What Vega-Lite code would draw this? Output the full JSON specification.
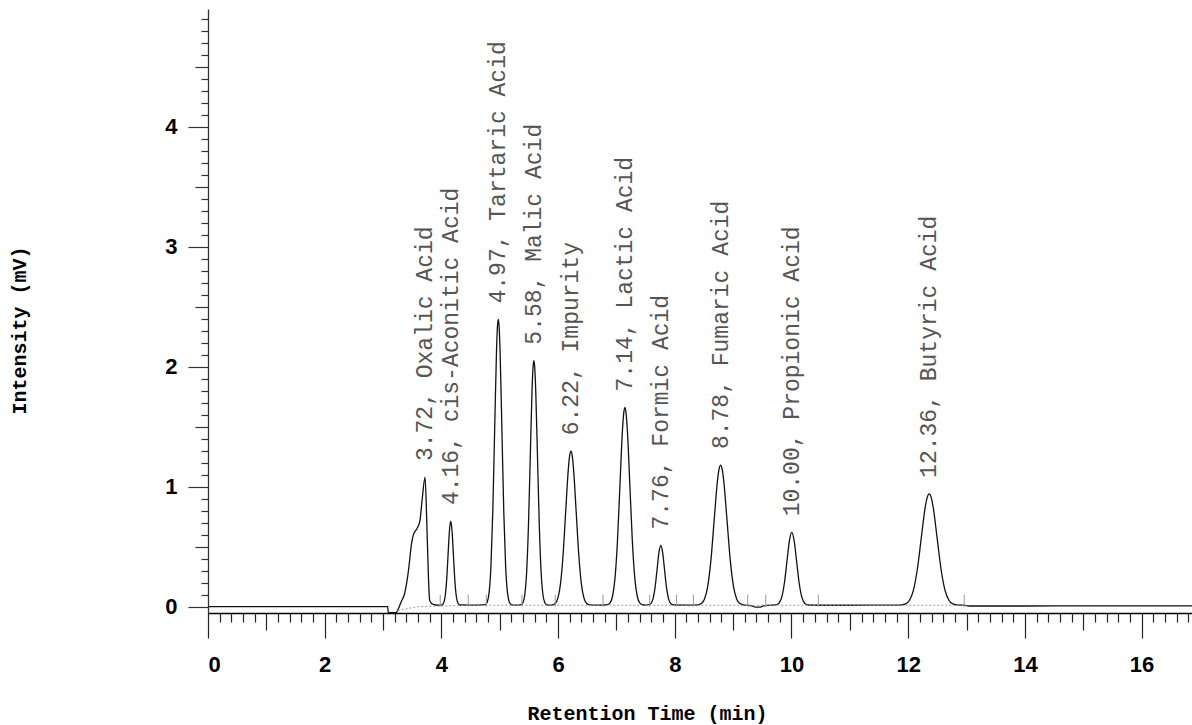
{
  "$schema": "https://vega.github.io/schema/vega-lite/v6.json",
  "width": 984,
  "height": 604,
  "autosize": {"type": "none"},
  "padding": {"left": 208, "top": 9, "right": 0, "bottom": 112},
  "background": "white",
  "config": {"view": {"stroke": null}},
  "datasets": {
    "trace": [
      {"t": 0, "mV": 0.0}, {"t": 1.5, "mV": 0.0}, {"t": 3.08, "mV": 0.0}, {"t": 3.09, "mV": -0.05}, {"t": 3.22, "mV": -0.05},
      {"t": 3.26, "mV": -0.02}, {"t": 3.31, "mV": 0.04}, {"t": 3.37, "mV": 0.11}, {"t": 3.43, "mV": 0.28}, {"t": 3.49, "mV": 0.53},
      {"t": 3.52, "mV": 0.6}, {"t": 3.58, "mV": 0.65}, {"t": 3.63, "mV": 0.71}, {"t": 3.67, "mV": 0.89}, {"t": 3.72, "mV": 1.08},
      {"t": 3.75, "mV": 0.7}, {"t": 3.78, "mV": 0.22}, {"t": 3.8, "mV": 0.05}, {"t": 3.86, "mV": 0.02}, {"t": 3.95, "mV": 0.013},
      {"t": 4.0, "mV": 0.013}, {"t": 4.025, "mV": 0.021}, {"t": 4.0475, "mV": 0.044}, {"t": 4.07, "mV": 0.108}, {"t": 4.0925, "mV": 0.24},
      {"t": 4.115, "mV": 0.438}, {"t": 4.1375, "mV": 0.631}, {"t": 4.16, "mV": 0.713}, {"t": 4.1825, "mV": 0.631}, {"t": 4.205, "mV": 0.438},
      {"t": 4.2275, "mV": 0.24}, {"t": 4.25, "mV": 0.108}, {"t": 4.2725, "mV": 0.044}, {"t": 4.295, "mV": 0.021}, {"t": 4.32, "mV": 0.014},
      {"t": 4.5, "mV": 0.013}, {"t": 4.755, "mV": 0.018}, {"t": 4.786, "mV": 0.039}, {"t": 4.8175, "mV": 0.117}, {"t": 4.849, "mV": 0.335},
      {"t": 4.8805, "mV": 0.786}, {"t": 4.912, "mV": 1.456}, {"t": 4.9435, "mV": 2.113}, {"t": 4.959, "mV": 2.32}, {"t": 4.975, "mV": 2.393},
      {"t": 4.991, "mV": 2.32}, {"t": 5.0065, "mV": 2.113}, {"t": 5.038, "mV": 1.456}, {"t": 5.0695, "mV": 0.786}, {"t": 5.101, "mV": 0.335},
      {"t": 5.1325, "mV": 0.117}, {"t": 5.164, "mV": 0.039}, {"t": 5.195, "mV": 0.018}, {"t": 5.28, "mV": 0.013},
      {"t": 5.368, "mV": 0.018}, {"t": 5.399, "mV": 0.036}, {"t": 5.43, "mV": 0.102}, {"t": 5.461, "mV": 0.289}, {"t": 5.492, "mV": 0.674},
      {"t": 5.523, "mV": 1.248}, {"t": 5.554, "mV": 1.811}, {"t": 5.5695, "mV": 1.987}, {"t": 5.585, "mV": 2.05}, {"t": 5.6005, "mV": 1.987},
      {"t": 5.616, "mV": 1.811}, {"t": 5.647, "mV": 1.248}, {"t": 5.678, "mV": 0.674}, {"t": 5.709, "mV": 0.289}, {"t": 5.74, "mV": 0.102},
      {"t": 5.771, "mV": 0.036}, {"t": 5.802, "mV": 0.018}, {"t": 5.85, "mV": 0.013},
      {"t": 5.905, "mV": 0.016}, {"t": 5.95, "mV": 0.027}, {"t": 5.995, "mV": 0.069}, {"t": 6.04, "mV": 0.186}, {"t": 6.085, "mV": 0.429},
      {"t": 6.13, "mV": 0.791}, {"t": 6.175, "mV": 1.144}, {"t": 6.1975, "mV": 1.256}, {"t": 6.22, "mV": 1.295}, {"t": 6.2425, "mV": 1.256},
      {"t": 6.265, "mV": 1.144}, {"t": 6.31, "mV": 0.791}, {"t": 6.355, "mV": 0.429}, {"t": 6.4, "mV": 0.186}, {"t": 6.445, "mV": 0.069},
      {"t": 6.49, "mV": 0.027}, {"t": 6.535, "mV": 0.016}, {"t": 6.7, "mV": 0.013}, {"t": 6.8, "mV": 0.014},
      {"t": 6.8475, "mV": 0.017}, {"t": 6.89, "mV": 0.031}, {"t": 6.9325, "mV": 0.085}, {"t": 6.975, "mV": 0.236}, {"t": 7.0175, "mV": 0.548},
      {"t": 7.06, "mV": 1.012}, {"t": 7.1025, "mV": 1.467}, {"t": 7.124, "mV": 1.609}, {"t": 7.145, "mV": 1.66}, {"t": 7.166, "mV": 1.609},
      {"t": 7.1875, "mV": 1.467}, {"t": 7.23, "mV": 1.012}, {"t": 7.2725, "mV": 0.548}, {"t": 7.315, "mV": 0.236}, {"t": 7.3575, "mV": 0.085},
      {"t": 7.4, "mV": 0.031}, {"t": 7.4425, "mV": 0.017}, {"t": 7.5, "mV": 0.013},
      {"t": 7.571, "mV": 0.019}, {"t": 7.6025, "mV": 0.035}, {"t": 7.634, "mV": 0.08}, {"t": 7.6655, "mV": 0.174}, {"t": 7.697, "mV": 0.314},
      {"t": 7.7285, "mV": 0.452}, {"t": 7.76, "mV": 0.51}, {"t": 7.7915, "mV": 0.452}, {"t": 7.823, "mV": 0.314}, {"t": 7.8545, "mV": 0.174},
      {"t": 7.886, "mV": 0.08}, {"t": 7.9175, "mV": 0.035}, {"t": 7.949, "mV": 0.019}, {"t": 8.0, "mV": 0.014}, {"t": 8.2, "mV": 0.013},
      {"t": 8.4, "mV": 0.016}, {"t": 8.455, "mV": 0.026}, {"t": 8.51, "mV": 0.064}, {"t": 8.565, "mV": 0.171}, {"t": 8.62, "mV": 0.392},
      {"t": 8.675, "mV": 0.721}, {"t": 8.73, "mV": 1.043}, {"t": 8.7575, "mV": 1.144}, {"t": 8.785, "mV": 1.18}, {"t": 8.8125, "mV": 1.144},
      {"t": 8.84, "mV": 1.043}, {"t": 8.895, "mV": 0.721}, {"t": 8.95, "mV": 0.392}, {"t": 9.005, "mV": 0.171}, {"t": 9.06, "mV": 0.064},
      {"t": 9.115, "mV": 0.026}, {"t": 9.17, "mV": 0.016}, {"t": 9.25, "mV": 0.012}, {"t": 9.32, "mV": 0.006}, {"t": 9.38, "mV": -0.004},
      {"t": 9.45, "mV": -0.004}, {"t": 9.52, "mV": 0.006}, {"t": 9.6, "mV": 0.011},
      {"t": 9.718, "mV": 0.014}, {"t": 9.759, "mV": 0.02}, {"t": 9.8, "mV": 0.04}, {"t": 9.841, "mV": 0.095}, {"t": 9.882, "mV": 0.21},
      {"t": 9.923, "mV": 0.381}, {"t": 9.964, "mV": 0.549}, {"t": 10.005, "mV": 0.62}, {"t": 10.046, "mV": 0.549}, {"t": 10.087, "mV": 0.381},
      {"t": 10.128, "mV": 0.21}, {"t": 10.169, "mV": 0.095}, {"t": 10.21, "mV": 0.04}, {"t": 10.251, "mV": 0.02}, {"t": 10.292, "mV": 0.014},
      {"t": 10.5, "mV": 0.012}, {"t": 11.0, "mV": 0.012}, {"t": 11.5, "mV": 0.013}, {"t": 11.8, "mV": 0.013},
      {"t": 11.8875, "mV": 0.015}, {"t": 11.955, "mV": 0.023}, {"t": 12.0225, "mV": 0.054}, {"t": 12.09, "mV": 0.138}, {"t": 12.1575, "mV": 0.314},
      {"t": 12.225, "mV": 0.575}, {"t": 12.2925, "mV": 0.831}, {"t": 12.326, "mV": 0.911}, {"t": 12.36, "mV": 0.94}, {"t": 12.394, "mV": 0.911},
      {"t": 12.4275, "mV": 0.831}, {"t": 12.495, "mV": 0.575}, {"t": 12.5625, "mV": 0.314}, {"t": 12.63, "mV": 0.138}, {"t": 12.6975, "mV": 0.054},
      {"t": 12.765, "mV": 0.023}, {"t": 12.8325, "mV": 0.015}, {"t": 12.95, "mV": 0.012}, {"t": 13.05, "mV": 0.006}, {"t": 14.0, "mV": 0.006},
      {"t": 15.0, "mV": 0.007}, {"t": 16.864, "mV": 0.007}
    ],
    "baseline": [
      {"t": 3.25, "mV": -0.03}, {"t": 3.6, "mV": 0.0}, {"t": 4.5, "mV": 0.012}, {"t": 13.0, "mV": 0.012}
    ],
    "markers": [
      {"t": 3.98, "mV": 0}, {"t": 4.46, "mV": 0}, {"t": 4.77, "mV": 0}, {"t": 5.38, "mV": 0}, {"t": 5.95, "mV": 0}, {"t": 6.77, "mV": 0}, {"t": 7.57, "mV": 0},
      {"t": 8.03, "mV": 0}, {"t": 8.32, "mV": 0}, {"t": 9.25, "mV": 0}, {"t": 9.56, "mV": 0}, {"t": 10.46, "mV": 0}, {"t": 12.96, "mV": 0}
    ],
    "peaks": [
      {"t": 3.72, "mV": 1.08, "label": "3.72, Oxalic Acid"},
      {"t": 4.16, "mV": 0.713, "label": "4.16, cis-Aconitic Acid"},
      {"t": 4.975, "mV": 2.393, "label": "4.97, Tartaric Acid"},
      {"t": 5.585, "mV": 2.05, "label": "5.58, Malic Acid"},
      {"t": 6.22, "mV": 1.295, "label": "6.22, Impurity"},
      {"t": 7.145, "mV": 1.66, "label": "7.14, Lactic Acid"},
      {"t": 7.76, "mV": 0.51, "label": "7.76, Formic Acid"},
      {"t": 8.785, "mV": 1.18, "label": "8.78, Fumaric Acid"},
      {"t": 10.005, "mV": 0.62, "label": "10.00, Propionic Acid"},
      {"t": 12.36, "mV": 0.94, "label": "12.36, Butyric Acid"}
    ]
  },
  "encoding": {
    "x": {
      "field": "t", "type": "quantitative",
      "scale": {"domain": [0, 16.864], "nice": false, "zero": false},
      "axis": {
        "title": "Retention Time (min)",
        "titleFont": "Liberation Mono", "titleFontWeight": "bold", "titleFontSize": 20, "titleColor": "#000000",
        "titleX": 439, "titleY": 106, "titleAlign": "center", "titleBaseline": "alphabetic", "titleAngle": 0,
        "values": [0,0.2,0.4,0.6,0.8,1,1.2,1.4,1.6,1.8,2,2.2,2.4,2.6,2.8,3,3.2,3.4,3.6,3.8,4,4.2,4.4,4.6,4.8,5,5.2,5.4,5.6,5.8,6,6.2,6.4,6.6,6.8,7,7.2,7.4,7.6,7.8,8,8.2,8.4,8.6,8.8,9,9.2,9.4,9.6,9.8,10,10.2,10.4,10.6,10.8,11,11.2,11.4,11.6,11.8,12,12.2,12.4,12.6,12.8,13,13.2,13.4,13.6,13.8,14,14.2,14.4,14.6,14.8,15,15.2,15.4,15.6,15.8,16,16.2,16.4,16.6,16.8],
        "tickSize": {"condition": [
          {"test": "abs(datum.value - round(datum.value / 2) * 2) < 0.001", "value": 25},
          {"test": "abs(datum.value - round(datum.value)) < 0.001", "value": 17}
        ], "value": 9},
        "tickColor": "#222222", "tickWidth": 1.2,
        "domainColor": "#000000", "domainWidth": 1.6,
        "labelExpr": "abs(datum.value - round(datum.value / 2) * 2) < 0.001 ? format(datum.value, 'd') : ''",
        "labelFont": "Liberation Sans", "labelFontWeight": "bold", "labelFontSize": 22, "labelColor": "#000000",
        "labelPadding": 16, "labelOverlap": false, "labelBound": false,
        "grid": false
      }
    },
    "y": {
      "field": "mV", "type": "quantitative",
      "scale": {"domain": [-0.0525, 4.98], "nice": false, "zero": false},
      "axis": {
        "title": "Intensity (mV)",
        "titleFont": "Liberation Mono", "titleFontWeight": "bold", "titleFontSize": 20, "titleColor": "#000000",
        "titleX": -183, "titleY": 321, "titleAlign": "center", "titleBaseline": "alphabetic", "titleAngle": -90,
        "values": [0,0.1,0.2,0.3,0.4,0.5,0.6,0.7,0.8,0.9,1,1.1,1.2,1.3,1.4,1.5,1.6,1.7,1.8,1.9,2,2.1,2.2,2.3,2.4,2.5,2.6,2.7,2.8,2.9,3,3.1,3.2,3.3,3.4,3.5,3.6,3.7,3.8,3.9,4,4.1,4.2,4.3,4.4,4.5,4.6,4.7,4.8,4.9],
        "tickSize": {"condition": [
          {"test": "abs(datum.value - round(datum.value)) < 0.001", "value": 20},
          {"test": "abs(datum.value * 2 - round(datum.value * 2)) < 0.001", "value": 13}
        ], "value": 7},
        "tickColor": "#333333", "tickWidth": 1.2,
        "domainColor": "#333333", "domainWidth": 1.3,
        "labelExpr": "abs(datum.value - round(datum.value)) < 0.001 ? format(datum.value, 'd') : ''",
        "labelFont": "Liberation Sans", "labelFontWeight": "bold", "labelFontSize": 22, "labelColor": "#000000",
        "labelPadding": 11, "labelOverlap": false, "labelBound": false,
        "grid": false
      }
    }
  },
  "layer": [
    {
      "data": {"name": "trace"},
      "mark": {"type": "line", "color": "#111111", "strokeWidth": 1.3, "interpolate": "monotone"}
    },
    {
      "data": {"name": "baseline"},
      "mark": {"type": "line", "color": "#999999", "strokeWidth": 1, "strokeDash": [2, 2]}
    },
    {
      "data": {"name": "markers"},
      "mark": {"type": "rule", "color": "#999999", "strokeWidth": 1},
      "encoding": {"y2": {"datum": 0.1}}
    },
    {
      "data": {"name": "peaks"},
      "mark": {"type": "text", "angle": -90, "align": "left", "baseline": "middle", "dx": 16, "font": "Liberation Mono", "fontSize": 23, "color": "#555555"},
      "encoding": {"text": {"field": "label"}}
    }
  ]
}
